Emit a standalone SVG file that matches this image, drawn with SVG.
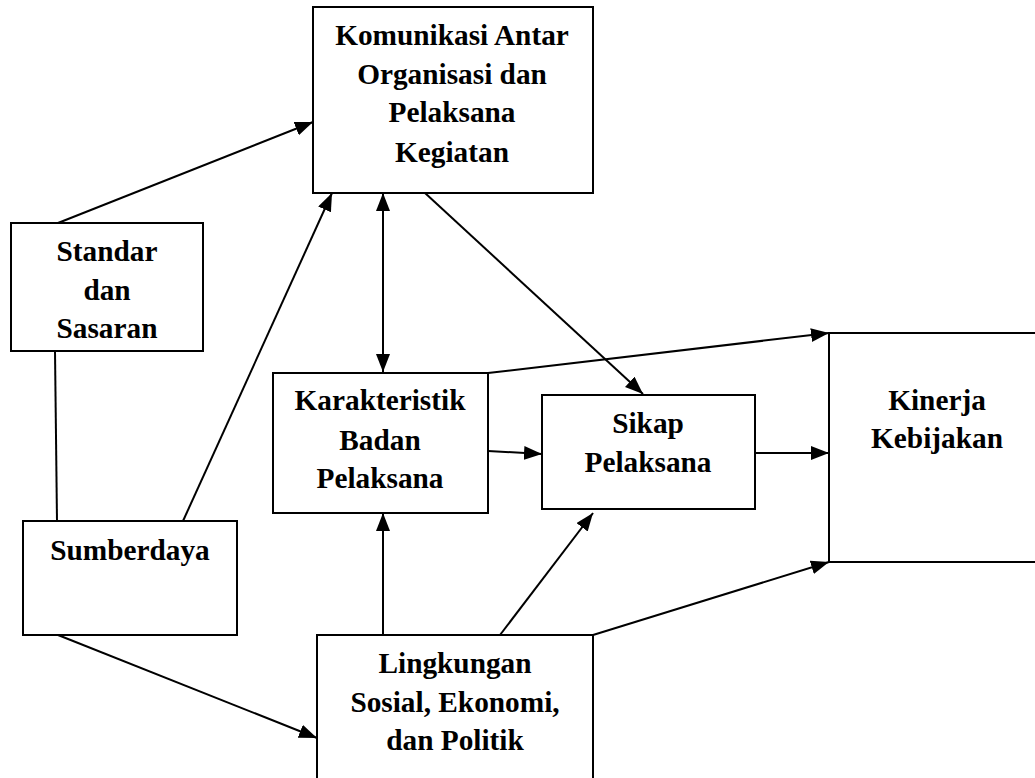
<svg xmlns="http://www.w3.org/2000/svg" width="1035" height="778" viewBox="0 0 1035 778">
<style>
.box{fill:#fff;stroke:#000;stroke-width:2}
.lbl{font-family:"Liberation Serif","Times New Roman",serif;font-weight:bold;font-size:29.3px;fill:#000;text-anchor:middle}
.c{stroke:#000;stroke-width:2;fill:none}
</style>
<defs>
<marker id="ah" markerUnits="userSpaceOnUse" markerWidth="19" markerHeight="15" refX="18" refY="7" orient="auto">
<path d="M0,0 L18,7 L0,14 z" fill="#000"/>
</marker>
<marker id="as" markerUnits="userSpaceOnUse" markerWidth="19" markerHeight="15" refX="0" refY="7" orient="auto">
<path d="M18,0 L0,7 L18,14 z" fill="#000"/>
</marker>
</defs>
<rect width="1035" height="778" fill="#fff"/>
<g id="connectors">
<line class="c" x1="58" y1="223" x2="313" y2="122" marker-end="url(#ah)"/>
<line class="c" x1="55" y1="351" x2="57" y2="521"/>
<line class="c" x1="183" y1="521" x2="332" y2="193" marker-end="url(#ah)"/>
<line class="c" x1="383" y1="193" x2="383" y2="372" marker-start="url(#as)" marker-end="url(#ah)"/>
<line class="c" x1="425" y1="193" x2="643" y2="394" marker-end="url(#ah)"/>
<line class="c" x1="488" y1="373" x2="829" y2="333" marker-end="url(#ah)"/>
<line class="c" x1="488" y1="451" x2="542" y2="454" marker-end="url(#ah)"/>
<line class="c" x1="755" y1="453" x2="829" y2="453" marker-end="url(#ah)"/>
<line class="c" x1="383" y1="635" x2="383" y2="513" marker-end="url(#ah)"/>
<line class="c" x1="500" y1="635" x2="593" y2="513" marker-end="url(#ah)"/>
<line class="c" x1="593" y1="635" x2="829" y2="562" marker-end="url(#ah)"/>
<line class="c" x1="58" y1="635" x2="317" y2="738" marker-end="url(#ah)"/>
</g>
<g id="komunikasi">
<rect class="box" x="313" y="7" width="280" height="186"/>
<text class="lbl" x="452" y="45">Komunikasi Antar</text>
<text class="lbl" x="452" y="84">Organisasi dan</text>
<text class="lbl" x="452" y="122">Pelaksana</text>
<text class="lbl" x="452" y="162">Kegiatan</text>
</g>
<g id="standar">
<rect class="box" x="11" y="223" width="192" height="128"/>
<text class="lbl" x="107" y="261">Standar</text>
<text class="lbl" x="107" y="300">dan</text>
<text class="lbl" x="107" y="338">Sasaran</text>
</g>
<g id="sumberdaya">
<rect class="box" x="23" y="521" width="214" height="114"/>
<text class="lbl" x="130" y="560">Sumberdaya</text>
</g>
<g id="karakteristik">
<rect class="box" x="273" y="373" width="215" height="140"/>
<text class="lbl" x="380" y="410">Karakteristik</text>
<text class="lbl" x="380" y="450">Badan</text>
<text class="lbl" x="380" y="488">Pelaksana</text>
</g>
<g id="sikap">
<rect class="box" x="542" y="395" width="213" height="114"/>
<text class="lbl" x="648" y="433">Sikap</text>
<text class="lbl" x="648" y="472">Pelaksana</text>
</g>
<g id="kinerja">
<rect class="box" x="829" y="333" width="230" height="229"/>
<text class="lbl" x="937" y="410">Kinerja</text>
<text class="lbl" x="937" y="448">Kebijakan</text>
</g>
<g id="lingkungan">
<rect class="box" x="317" y="635" width="276" height="160"/>
<text class="lbl" x="455" y="673">Lingkungan</text>
<text class="lbl" x="455" y="712">Sosial, Ekonomi,</text>
<text class="lbl" x="455" y="750">dan Politik</text>
</g>
</svg>
